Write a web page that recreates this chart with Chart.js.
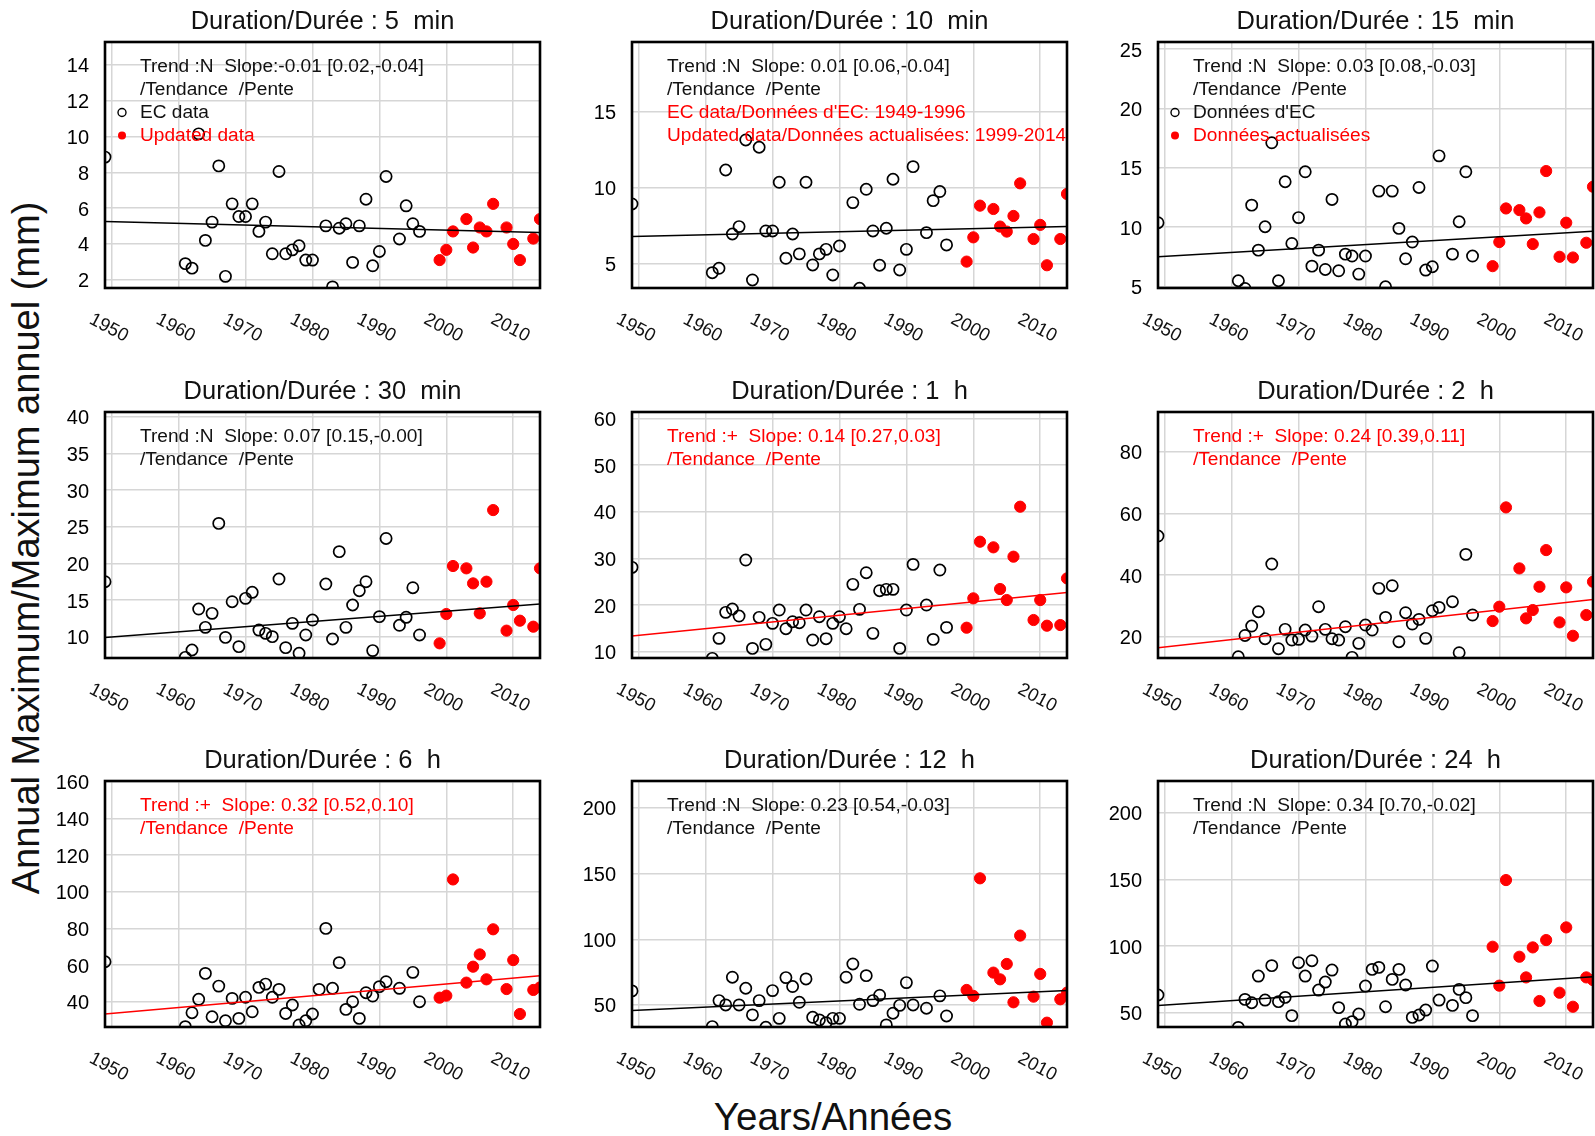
<!DOCTYPE html>
<html>
<head>
<meta charset="utf-8">
<script src="https://cdn.jsdelivr.net/npm/chart.js@4.4.1/dist/chart.umd.min.js"></script>
<style>
  html, body { margin: 0; padding: 0; background: #fff; width: 1595px; height: 1136px; overflow: hidden; }
  canvas { position: absolute; }
  .axis-title { position: absolute; font-family: "Liberation Sans", Arial, sans-serif;
                color: #111; white-space: nowrap; line-height: 1; transform: translate(-50%, -50%); }
  #ytitle { left: 26px; top: 548px; font-size: 38px; transform: translate(-50%, -50%) rotate(-90deg); }
  #xtitle { left: 833px; top: 1117px; font-size: 38.5px; }
</style>
</head>
<body>
<div id="ytitle" class="axis-title">Annual Maximum/Maximum annuel (mm)</div>
<div id="xtitle" class="axis-title">Years/Années</div>
<script>
// ---- data -------------------------------------------------------------
const EC_YEARS = [1949, 1961, 1962, 1963, 1964, 1965, 1966, 1967, 1968, 1969, 1970,
  1971, 1972, 1973, 1974, 1975, 1976, 1977, 1978, 1979, 1980, 1981, 1982, 1983,
  1984, 1985, 1986, 1987, 1988, 1989, 1990, 1991, 1993, 1994, 1995, 1996];
const UPD_YEARS = [1999, 2000, 2001, 2003, 2004, 2005, 2006, 2007, 2009, 2010, 2011, 2013, 2014];
const DECADES = [1950, 1960, 1970, 1980, 1990, 2000, 2010];

const durations = ['5  min', '10  min', '15  min', '30  min', '1  h', '2  h', '6  h', '12  h', '24  h'];

// annual maxima, EC record (null = not available)
const ec5min  = [8.85, 2.9, 2.65, 10.15, 4.2, 5.22, 8.36, 2.19, 6.24, 5.53, 5.53, 6.24, 4.7, 5.22, 3.45, 8.05, 3.45, 3.67, 3.9, 3.1, 3.1, null, 5.01, 1.6, 4.88, 5.13, 2.97, 5.01, 6.5, 2.78, 3.58, 7.77, 4.28, 6.13, 5.13, 4.7];
const ec10min = [8.91, 4.38, 4.67, 11.15, 6.93, 7.42, 13.13, 3.9, 12.65, 7.13, 7.13, 10.34, 5.33, 6.93, 5.62, 10.34, 4.89, 5.62, 5.92, 4.23, 6.14, null, 9.0, 3.35, 9.88, 7.13, 4.87, 7.31, 10.54, 4.56, 5.92, 11.37, 7.02, 9.13, 9.73, 6.21];
const ec15min = [10.37, 5.48, 4.83, 11.85, 8.06, 10.03, 17.1, 5.48, 13.82, 8.62, 10.8, 14.66, 6.71, 8.06, 6.43, 12.33, 6.32, 7.72, 7.56, 6.04, 7.56, null, 13.03, 4.97, 13.03, 9.89, 7.33, 8.74, 13.34, 6.38, 6.66, 16.0, 7.72, 10.45, 14.66, 7.56];
const ec30min = [17.5, 7.18, 8.18, 13.77, 11.27, 13.18, 25.45, 9.9, 14.77, 8.64, 15.23, 16.05, 10.9, 10.45, 10.0, 17.86, 8.5, 11.82, 7.73, 10.23, 12.27, null, 17.18, 9.68, 21.6, 11.27, 14.32, 16.27, 17.5, 8.1, 12.73, 23.4, 11.55, 12.64, 16.68, 10.23];
const ec1h    = [28.07, 8.57, 12.86, 18.43, 19.14, 17.64, 29.64, 10.71, 17.36, 11.57, 16.07, 18.93, 14.93, 16.43, 16.21, 18.93, 12.5, 17.5, 12.79, 16.07, 17.5, 14.93, 24.43, 19.07, 26.93, 13.93, 23.07, 23.36, 23.36, 10.71, 18.93, 28.71, 20.0, 12.64, 27.5, 15.21];
const ec2h    = [52.65, 13.5, 20.4, 23.46, 28.1, 19.35, 43.57, 16.1, 22.38, 18.92, 19.14, 22.16, 20.2, 29.73, 22.38, 19.35, 18.92, 23.24, 13.3, 17.84, 23.78, 22.16, 35.68, 26.27, 36.54, 18.38, 27.78, 24.11, 25.62, 19.46, 28.43, 29.51, 31.35, 14.81, 46.7, 27.03];
const ec6h    = [61.8, 26.4, 34.0, 41.3, 55.45, 31.8, 48.5, 29.6, 41.8, 30.9, 42.4, 34.5, 47.8, 49.6, 42.4, 46.7, 33.6, 38.2, 27.3, 29.6, 33.3, 46.7, 80.0, 47.3, 61.3, 35.8, 40.0, 30.9, 44.9, 43.1, 48.2, 50.9, 47.3, null, 56.0, 40.0];
const ec12h   = [60.7, 33.5, 53.3, 50.0, 71.1, 50.0, 62.7, 42.4, 53.3, 33.0, 60.9, 39.8, 70.8, 64.0, 52.0, 69.8, 40.6, 38.6, 36.5, 39.8, 39.8, 71.1, 81.2, 50.5, 72.3, 53.3, 57.4, 34.8, 43.7, 49.7, 67.0, 50.0, 47.5, null, 56.9, 41.6];
const ec24h   = [63.3, 39.0, 60.0, 57.5, 77.5, 59.5, 85.3, 58.3, 61.5, 47.8, 87.5, 77.5, 89.0, 67.0, 73.0, 82.0, 53.8, 41.5, 43.3, 49.0, 70.0, 82.5, 84.0, 54.5, 75.0, 82.5, 70.8, 46.5, 48.3, 52.0, 85.0, 59.5, 55.5, 67.5, 61.3, 47.8];

// annual maxima, updated record
const upd5min  = [3.1, 3.67, 4.7, 5.39, 3.8, 4.92, 4.7, 6.24, 4.92, 4.0, 3.1, 4.3, 5.39];
const upd10min = [5.11, 6.71, 8.8, 8.58, 7.42, 7.09, 8.12, 10.27, 6.6, 7.53, 4.87, 6.6, 9.57];
const upd15min = [6.71, 8.74, 11.57, 11.43, 10.73, 8.57, 11.24, 14.72, 7.5, 10.37, 7.44, 8.68, 13.4];
const upd30min = [9.09, 13.09, 19.64, 19.32, 17.27, 13.18, 17.5, 27.27, 10.82, 14.32, 12.18, 11.36, 19.32];
const upd1h    = [15.14, 21.43, 33.57, 32.36, 23.43, 21.07, 30.36, 41.07, 16.79, 21.07, 15.57, 15.71, 25.71];
const upd2h    = [25.08, 29.73, 61.95, 42.16, 25.95, 28.65, 36.2, 48.1, 24.65, 36.0, 20.3, 27.03, 37.84];
const upd6h    = [42.2, 43.3, 106.7, 50.4, 59.1, 65.8, 52.2, 79.5, 46.9, 62.7, 33.3, 46.4, 47.8];
const upd12h   = [61.4, 56.9, 146.4, 74.6, 69.5, 81.2, 52.0, 102.8, 56.3, 73.6, 36.5, 54.3, 59.4];
const upd24h   = [99.5, 70.3, 149.5, 92.0, 76.5, 99.0, 58.8, 104.5, 65.0, 114.0, 54.5, 76.5, 74.5];

// fitted trend line, value at start and end of the period
const TREND_YEARS = [1949, 2014];
const trend5min  = [5.26, 4.64];
const trend10min = [6.76, 7.42];
const trend15min = [7.5, 9.66];
const trend30min = [9.9, 14.45];
const trend1h    = [13.36, 22.71];
const trend2h    = [16.43, 32.1];
const trend6h    = [33.3, 54.2];
const trend12h   = [45.7, 60.9];
const trend24h   = [55.5, 77.0];
const significant = [false, false, false, false, true, true, true, false, false];

const slopeText = [
  'Trend :N  Slope:-0.01 [0.02,-0.04]',
  'Trend :N  Slope: 0.01 [0.06,-0.04]',
  'Trend :N  Slope: 0.03 [0.08,-0.03]',
  'Trend :N  Slope: 0.07 [0.15,-0.00]',
  'Trend :+  Slope: 0.14 [0.27,0.03]',
  'Trend :+  Slope: 0.24 [0.39,0.11]',
  'Trend :+  Slope: 0.32 [0.52,0.10]',
  'Trend :N  Slope: 0.23 [0.54,-0.03]',
  'Trend :N  Slope: 0.34 [0.70,-0.02]'
];

// y axis ticks and limits for each duration
const yTicks = [
  [2, 4, 6, 8, 10, 12, 14],
  [5, 10, 15],
  [5, 10, 15, 20, 25],
  [10, 15, 20, 25, 30, 35, 40],
  [10, 20, 30, 40, 50, 60],
  [20, 40, 60, 80],
  [40, 60, 80, 100, 120, 140, 160],
  [50, 100, 150, 200],
  [50, 100, 150, 200]
];
const yMin = [1.54, 3.37, 4.87, 7.09, 8.65, 13.09, 26.2, 33.2, 39.3];
const yMax = [15.28, 19.59, 25.59, 40.65, 61.36, 92.9, 160.4, 220.5, 223.8];

const ecSeries = [ec5min, ec10min, ec15min, ec30min, ec1h, ec2h, ec6h, ec12h, ec24h];
const updSeries = [upd5min, upd10min, upd15min, upd30min, upd1h, upd2h, upd6h, upd12h, upd24h];
const trendSeries = [trend5min, trend10min, trend15min, trend30min, trend1h, trend2h, trend6h, trend12h, trend24h];

// ---- layout -------------------------------------------------------------
const FONT = '"Liberation Sans", Arial, sans-serif';
const RED = '#ff0000';
const INK = '#111111';
const COL_X = [105, 632, 1158];
const ROW_Y = [42, 412, 781];
const PLOT_W = 435, PLOT_H = 246;
const PAD_L = 70, PAD_T = 42, PAD_B = 75, PAD_R = 8;

// text block in the upper-left corner of each panel
function notes(i) {
  const c = significant[i] ? RED : INK;
  const lines = [
    { text: slopeText[i], color: c },
    { text: '/Tendance  /Pente', color: c }
  ];
  if (i === 0) {
    lines.push({ text: 'EC data', color: INK, marker: 'open' });
    lines.push({ text: 'Updated data', color: RED, marker: 'filled' });
  } else if (i === 1) {
    lines.push({ text: "EC data/Données d'EC: 1949-1996", color: RED });
    lines.push({ text: 'Updated data/Données actualisées: 1999-2014', color: RED });
  } else if (i === 2) {
    lines.push({ text: "Données d'EC", color: INK, marker: 'open' });
    lines.push({ text: 'Données actualisées', color: RED, marker: 'filled' });
  }
  return lines;
}

const panelDecor = {
  id: 'panelDecor',
  afterDraw(chart, args, opts) {
    const { ctx, chartArea: a, scales: { x } } = chart;
    ctx.save();
    // frame
    ctx.strokeStyle = '#000';
    ctx.lineWidth = 2.6;
    ctx.strokeRect(a.left, a.top, a.right - a.left, a.bottom - a.top);
    // title
    ctx.fillStyle = INK;
    ctx.font = '25.5px ' + FONT;
    ctx.textAlign = 'center';
    ctx.textBaseline = 'alphabetic';
    ctx.fillText('Duration/Durée : ' + opts.duration, (a.left + a.right) / 2, a.top - 13);
    // slanted year labels
    ctx.font = '18.5px ' + FONT;
    ctx.textBaseline = 'middle';
    DECADES.forEach(v => {
      const px = x.getPixelForValue(v);
      ctx.save();
      ctx.translate(px - 3, a.bottom + 40);
      ctx.rotate(28 * Math.PI / 180);
      ctx.fillText(String(v), 0, 0);
      ctx.restore();
    });
    // notes and key
    ctx.font = '19.1px ' + FONT;
    ctx.textAlign = 'left';
    opts.lines.forEach((ln, k) => {
      const y = a.top + 24.5 + 23 * k;
      ctx.fillStyle = ln.color;
      ctx.fillText(ln.text, a.left + 35, y);
      if (ln.marker) {
        ctx.beginPath();
        ctx.arc(a.left + 17, y, 4, 0, Math.PI * 2);
        if (ln.marker === 'open') { ctx.strokeStyle = '#000'; ctx.lineWidth = 1.4; ctx.stroke(); }
        else { ctx.fillStyle = RED; ctx.fill(); }
      }
    });
    ctx.restore();
  }
};

function makePanel(i) {
  const col = i % 3, row = Math.floor(i / 3);
  const cv = document.createElement('canvas');
  cv.width = PAD_L + PLOT_W + PAD_R;
  cv.height = PAD_T + PLOT_H + PAD_B;
  cv.style.left = (COL_X[col] - PAD_L) + 'px';
  cv.style.top = (ROW_Y[row] - PAD_T) + 'px';
  document.body.appendChild(cv);

  const ec = EC_YEARS.map((yr, k) => ({ x: yr, y: ecSeries[i][k] })).filter(p => p.y !== null);
  const upd = UPD_YEARS.map((yr, k) => ({ x: yr, y: updSeries[i][k] }));
  const trend = TREND_YEARS.map((yr, k) => ({ x: yr, y: trendSeries[i][k] }));
  const lineColor = significant[i] ? RED : '#000';
  const grid = { color: '#d6d6d6', lineWidth: 1.5, drawTicks: false };

  new Chart(cv, {
    type: 'scatter',
    data: {
      datasets: [
        { data: trend, showLine: true, borderColor: lineColor, borderWidth: 1.5,
          pointRadius: 0, clip: 0 },
        { data: ec, pointStyle: 'circle', pointRadius: 5.6, pointBorderWidth: 1.7,
          pointBorderColor: '#000', pointBackgroundColor: 'rgba(0,0,0,0)', clip: 0 },
        { data: upd, pointStyle: 'circle', pointRadius: 5.6, pointBorderWidth: 1,
          pointBorderColor: RED, pointBackgroundColor: RED, clip: 0 }
      ]
    },
    options: {
      responsive: false,
      animation: false,
      devicePixelRatio: 1,
      layout: { padding: { top: PAD_T, right: PAD_R, bottom: 0, left: 0 } },
      plugins: {
        legend: { display: false },
        tooltip: { enabled: false },
        panelDecor: { duration: durations[i], lines: notes(i) }
      },
      scales: {
        x: {
          type: 'linear', min: 1949, max: 2014,
          afterBuildTicks: s => { s.ticks = DECADES.map(v => ({ value: v })); },
          afterFit: s => { s.height = PAD_B; },
          ticks: { display: false },
          grid: grid,
          border: { display: false }
        },
        y: {
          type: 'linear', min: yMin[i], max: yMax[i],
          afterBuildTicks: s => { s.ticks = yTicks[i].map(v => ({ value: v })); },
          afterFit: s => { s.width = PAD_L; },
          ticks: { color: '#000', font: { family: FONT, size: 20 }, padding: 16, labelOffset: 2 },
          grid: grid,
          border: { display: false }
        }
      }
    },
    plugins: [panelDecor]
  });
}

for (let i = 0; i < 9; i++) makePanel(i);
</script>
</body>
</html>
